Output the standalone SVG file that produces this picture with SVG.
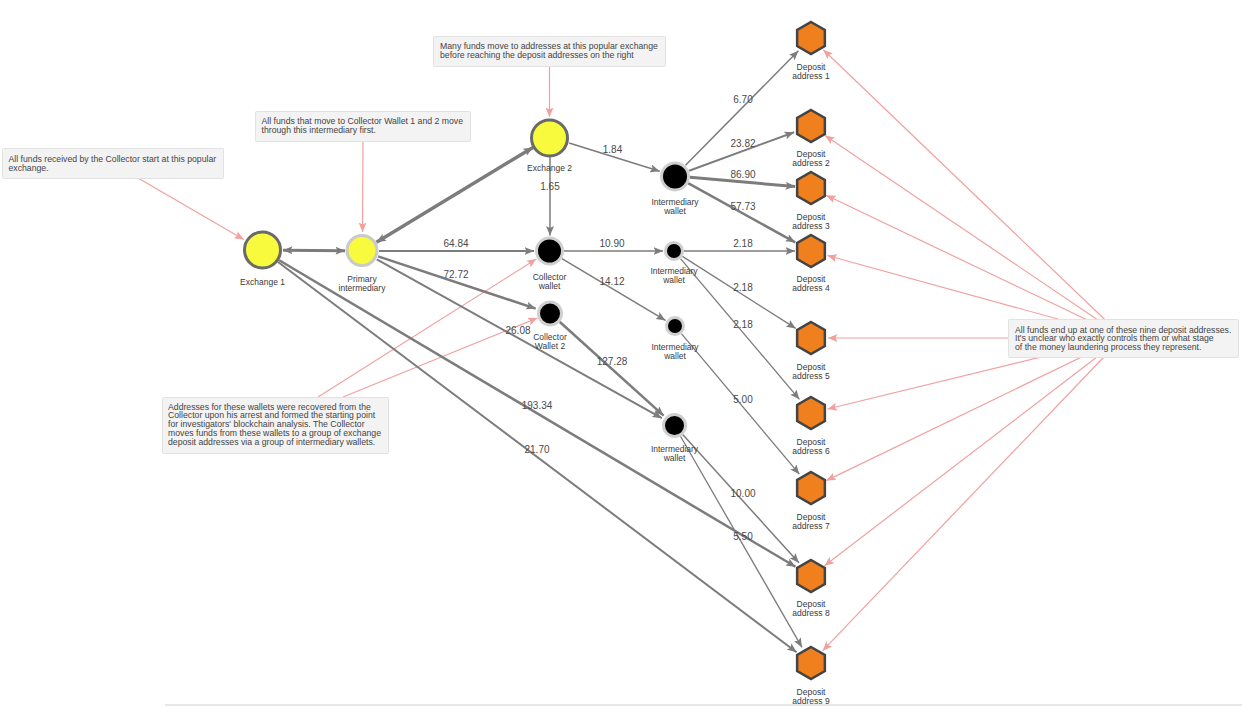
<svg xmlns="http://www.w3.org/2000/svg" width="1242" height="707" viewBox="0 0 1242 707">
<style>
text{font-family:"Liberation Sans",Arial,sans-serif}
.nl{font-size:8.5px;fill:#3a3a3a;text-anchor:middle}
.el{font-size:10px;fill:#4a4a4a;text-anchor:middle}
.an{font-size:8.7px;fill:#444}
.box{fill:#f3f3f3;stroke:#e2e2e2;stroke-width:1}
.e{stroke:#7c7c7c;fill:none;marker-end:url(#ah)}
.pk{stroke:#f1a0a0;stroke-width:1.2;fill:none;marker-end:url(#ph)}
.yl{fill:#f8fa3e}
.bk{fill:#000;stroke:#cfcfcf;stroke-width:3}
.hx{fill:#f07f1e;stroke:#444;stroke-width:2.5}
</style>
<defs>
<marker id="ah" markerUnits="userSpaceOnUse" markerWidth="10" markerHeight="8" refX="9.5" refY="4" orient="auto-start-reverse" viewBox="0 0 10 8"><path d="M0,0 L9.5,4 L0,8 L2,4 Z" fill="#7c7c7c"/></marker>
<marker id="ph" markerUnits="userSpaceOnUse" markerWidth="10" markerHeight="8" refX="9.5" refY="4" orient="auto" viewBox="0 0 10 8"><path d="M0,0 L9.5,4 L0,8 L2,4 Z" fill="#f1a0a0"/></marker>
<polygon id="hex" points="0,-16 13.86,-8 13.86,8 0,16 -13.86,8 -13.86,-8"/>
</defs>
<rect width="1242" height="707" fill="#fff"/>
<rect x="165" y="704.5" width="1077" height="1" fill="#d0d0d0"/>

<g id="annotation-arrows">
<line class="pk" x1="1123" y1="337" x2="823.3" y2="49.8"/>
<line class="pk" x1="1123" y1="337" x2="825.1" y2="135.5"/>
<line class="pk" x1="1123" y1="337" x2="826.3" y2="195.3"/>
<line class="pk" x1="1123" y1="337" x2="827.4" y2="255.5"/>
<line class="pk" x1="1123" y1="338" x2="828" y2="338"/>
<line class="pk" x1="1123" y1="337" x2="827.5" y2="409"/>
<line class="pk" x1="1123" y1="337" x2="826.3" y2="480.6"/>
<line class="pk" x1="1123" y1="337" x2="824.5" y2="565.7"/>
<line class="pk" x1="1123" y1="337" x2="822.7" y2="650.7"/>
<line class="pk" x1="138" y1="178" x2="243.8" y2="239.5"/>
<line class="pk" x1="363" y1="141" x2="362.5" y2="232"/>
<line class="pk" x1="549.5" y1="66" x2="549.5" y2="117"/>
<line class="pk" x1="318" y1="397" x2="536.3" y2="259"/>
<line class="pk" x1="343" y1="397" x2="537.5" y2="318"/>
</g>

<g id="connectors">
<line class="e" style="stroke-width:3;marker-start:url(#ah)" x1="283" y1="250.2" x2="345" y2="250.8"/>
<line class="e" style="stroke-width:3.5;marker-start:url(#ah)" x1="376.5" y1="242.2" x2="532.9" y2="147.4"/>
<line class="e" style="stroke-width:2" x1="379" y1="251" x2="534" y2="251"/>
<line class="e" style="stroke-width:2.5" x1="378.1" y1="256.4" x2="535.7" y2="308.6"/>
<line class="e" style="stroke-width:2" x1="376.8" y1="259.3" x2="661.8" y2="418.2"/>
<line class="e" style="stroke-width:2.5" x1="279.2" y1="260.2" x2="795.5" y2="566.8"/>
<line class="e" style="stroke-width:2" x1="278" y1="262" x2="796.6" y2="652.2"/>
<line class="e" style="stroke-width:1.5" x1="569.1" y1="143" x2="659.7" y2="171.2"/>
<line class="e" style="stroke-width:1.5" x1="550" y1="157" x2="550" y2="235.5"/>
<line class="e" style="stroke-width:1.5" x1="564" y1="251" x2="663" y2="251"/>
<line class="e" style="stroke-width:1.5" x1="561.9" y1="258.7" x2="665.5" y2="320.4"/>
<line class="e" style="stroke-width:2.5" x1="559.6" y1="321.7" x2="663.6" y2="415.6"/>
<line class="e" style="stroke-width:1.5" x1="685.5" y1="165.3" x2="798.4" y2="50.8"/>
<line class="e" style="stroke-width:2" x1="689.1" y1="170.8" x2="794.1" y2="132.2"/>
<line class="e" style="stroke-width:3" x1="689.9" y1="177.3" x2="795.1" y2="186.6"/>
<line class="e" style="stroke-width:2.5" x1="688.1" y1="183.2" x2="795.2" y2="242.3"/>
<line class="e" style="stroke-width:1.3" x1="684" y1="251" x2="795" y2="251"/>
<line class="e" style="stroke-width:1.3" x1="682.4" y1="256.4" x2="795.8" y2="328.4"/>
<line class="e" style="stroke-width:1.3" x1="680.5" y1="258.6" x2="799.4" y2="399.3"/>
<line class="e" style="stroke-width:1.3" x1="681.4" y1="333.7" x2="799.4" y2="474.2"/>
<line class="e" style="stroke-width:1.5" x1="682.7" y1="434.6" x2="798.9" y2="562.7"/>
<line class="e" style="stroke-width:1.3" x1="680.5" y1="436.3" x2="802" y2="647.4"/>
<text class="el" x="456" y="247">64.84</text>
<text class="el" x="456" y="278">72.72</text>
<text class="el" x="518" y="334">26.08</text>
<text class="el" x="537" y="409">193.34</text>
<text class="el" x="537" y="452.5">21.70</text>
<text class="el" x="612.5" y="152.5">1.84</text>
<text class="el" x="550" y="190">1.65</text>
<text class="el" x="612" y="247">10.90</text>
<text class="el" x="612" y="284.5">14.12</text>
<text class="el" x="612" y="365">127.28</text>
<text class="el" x="743" y="103">6.70</text>
<text class="el" x="743" y="147">23.82</text>
<text class="el" x="743" y="178">86.90</text>
<text class="el" x="743" y="209.5">57.73</text>
<text class="el" x="743" y="247">2.18</text>
<text class="el" x="743" y="290.5">2.18</text>
<text class="el" x="743" y="328">2.18</text>
<text class="el" x="743" y="403">5.00</text>
<text class="el" x="743" y="496.5">10.00</text>
<text class="el" x="743" y="540">5.50</text>
</g>

<g id="note-exchange1">
<rect class="box" x="2.5" y="148.5" width="221" height="30" rx="1"/>
<text class="an" x="8.5" y="161.5">All funds received by the Collector start at this popular</text>
<text class="an" x="8.5" y="170.5">exchange.</text>
</g>
<g id="note-primary">
<rect class="box" x="255.5" y="111.5" width="215" height="30" rx="1"/>
<text class="an" x="261.5" y="124">All funds that move to Collector Wallet 1 and 2 move</text>
<text class="an" x="261.5" y="133">through this intermediary first.</text>
</g>
<g id="note-exchange2">
<rect class="box" x="433.5" y="36.5" width="232" height="30" rx="1"/>
<text class="an" x="440" y="49">Many funds move to addresses at this popular exchange</text>
<text class="an" x="440" y="58">before reaching the deposit addresses on the right</text>
</g>
<g id="note-collector">
<rect class="box" x="162.5" y="397.5" width="226" height="56" rx="1"/>
<text class="an" x="168" y="409.7">Addresses for these wallets were recovered from the</text>
<text class="an" x="168" y="418.4">Collector upon his arrest and formed the starting point</text>
<text class="an" x="168" y="427.1">for investigators' blockchain analysis. The Collector</text>
<text class="an" x="168" y="435.8">moves funds from these wallets to a group of exchange</text>
<text class="an" x="168" y="444.5">deposit addresses via a group of intermediary wallets.</text>
</g>
<g id="note-deposits">
<rect class="box" x="1008.5" y="319.5" width="230" height="38" rx="1"/>
<text class="an" x="1015" y="332.5">All funds end up at one of these nine deposit addresses.</text>
<text class="an" x="1015" y="341.2">It's unclear who exactly controls them or what stage</text>
<text class="an" x="1015" y="350">of the money laundering process they represent.</text>
</g>

<g id="exchange-1">
<circle class="yl" cx="262.5" cy="250" r="18" stroke="#6a6a6a" stroke-width="3"/>
<text class="nl" x="262.5" y="284.5">Exchange 1</text>
</g>
<g id="primary-intermediary">
<circle class="yl" cx="362" cy="250.5" r="15" stroke="#cacaca" stroke-width="3"/>
<text class="nl" x="362" y="282">Primary</text>
<text class="nl" x="362" y="291">intermediary</text>
</g>
<g id="exchange-2">
<circle class="yl" cx="549.5" cy="138" r="18" stroke="#6a6a6a" stroke-width="3"/>
<text class="nl" x="549.5" y="171">Exchange 2</text>
</g>
<g id="collector-wallet">
<circle class="bk" cx="549.5" cy="251" r="13"/>
<text class="nl" x="549.5" y="279.5">Collector</text>
<text class="nl" x="549.5" y="289">wallet</text>
</g>
<g id="collector-wallet-2">
<circle class="bk" cx="550" cy="313.5" r="11.5"/>
<text class="nl" x="550" y="339.5">Collector</text>
<text class="nl" x="550" y="348.5">Wallet 2</text>
</g>
<g id="intermediary-1">
<circle class="bk" cx="675" cy="176.5" r="13.5"/>
<text class="nl" x="675" y="204.5">Intermediary</text>
<text class="nl" x="675" y="213.5">wallet</text>
</g>
<g id="intermediary-2">
<circle class="bk" cx="674" cy="251" r="8.5"/>
<text class="nl" x="674" y="274">Intermediary</text>
<text class="nl" x="674" y="283">wallet</text>
</g>
<g id="intermediary-3">
<circle class="bk" cx="675" cy="326" r="8.5"/>
<text class="nl" x="675" y="349.5">Intermediary</text>
<text class="nl" x="675" y="358.5">wallet</text>
</g>
<g id="intermediary-4">
<circle class="bk" cx="674.5" cy="425.5" r="11"/>
<text class="nl" x="674.5" y="452">Intermediary</text>
<text class="nl" x="674.5" y="461">wallet</text>
</g>

<g id="deposit-1"><use href="#hex" class="hx" x="811" y="38"/><text class="nl" x="811" y="69.5">Deposit</text><text class="nl" x="811" y="79">address 1</text></g>
<g id="deposit-2"><use href="#hex" class="hx" x="811" y="126"/><text class="nl" x="811" y="157">Deposit</text><text class="nl" x="811" y="166">address 2</text></g>
<g id="deposit-3"><use href="#hex" class="hx" x="811" y="188"/><text class="nl" x="811" y="219.5">Deposit</text><text class="nl" x="811" y="228.5">address 3</text></g>
<g id="deposit-4"><use href="#hex" class="hx" x="811" y="251"/><text class="nl" x="811" y="282">Deposit</text><text class="nl" x="811" y="291">address 4</text></g>
<g id="deposit-5"><use href="#hex" class="hx" x="811" y="338"/><text class="nl" x="811" y="369.5">Deposit</text><text class="nl" x="811" y="378.5">address 5</text></g>
<g id="deposit-6"><use href="#hex" class="hx" x="811" y="413"/><text class="nl" x="811" y="444.5">Deposit</text><text class="nl" x="811" y="453.5">address 6</text></g>
<g id="deposit-7"><use href="#hex" class="hx" x="811" y="488"/><text class="nl" x="811" y="519.5">Deposit</text><text class="nl" x="811" y="528.5">address 7</text></g>
<g id="deposit-8"><use href="#hex" class="hx" x="811" y="576"/><text class="nl" x="811" y="607">Deposit</text><text class="nl" x="811" y="616">address 8</text></g>
<g id="deposit-9"><use href="#hex" class="hx" x="811" y="663"/><text class="nl" x="811" y="694.5">Deposit</text><text class="nl" x="811" y="703.5">address 9</text></g>
</svg>
